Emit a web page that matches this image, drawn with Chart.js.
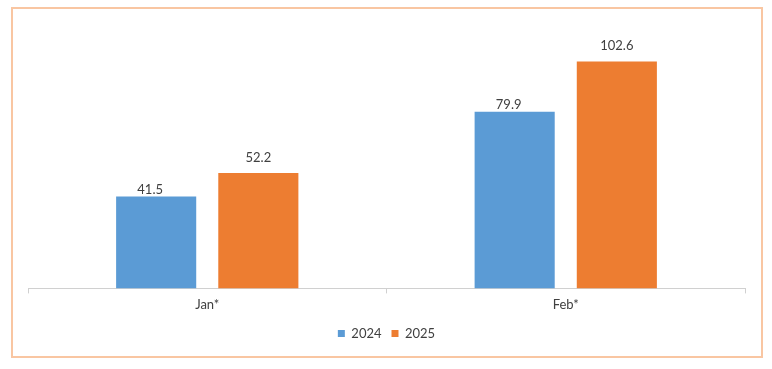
<!DOCTYPE html>
<html>
<head>
<meta charset="utf-8">
<script src="https://cdn.jsdelivr.net/npm/chart.js@4/dist/chart.umd.min.js"></script>
<style>
  html, body { margin: 0; padding: 0; background: #fff; }
  #wrap { position: relative; width: 772px; height: 369px; }
  #frame { position: absolute; left: 11px; top: 7px; width: 748px; height: 347px; border: 2px solid #f9c6a2; }
  canvas { position: absolute; left: 0; top: 0; }
</style>
</head>
<body>
<div id="wrap">
  <div id="frame"></div>
  <canvas id="canvas" width="772" height="369"></canvas>
</div>
<script>
// chart data
var months = ["Jan*", "Feb*"];
var values2024 = [41.5, 79.9];
var values2025 = [52.2, 102.6];
var seriesNames = ["2024", "2025"];

/* draws the value above each bar */
var valueLabels = {
  id: "valueLabels",
  afterDatasetsDraw: function(chart) {
    var ctx = chart.ctx;
    ctx.save();
    ctx.font = "13px Lato";
    ctx.fillStyle = "#404040";
    ctx.textAlign = "center";
    ctx.textBaseline = "bottom";
    chart.data.datasets.forEach(function(ds, i) {
      var meta = chart.getDatasetMeta(i);
      meta.data.forEach(function(bar, j) {
        ctx.fillText(ds.data[j].toFixed(1), bar.x + ds.labelDx, bar.y - ds.labelDy);
      });
    });
    ctx.restore();
  }
};

var ctx2d = document.getElementById("canvas").getContext("2d");

var myBar = new Chart(ctx2d, {
  type: "bar",
  data: {
    labels: months,
    datasets: [
      { label: seriesNames[0], data: values2024, backgroundColor: "#5b9bd5", labelDx: -6, labelDy: 0 },
      { label: seriesNames[1], data: values2025, backgroundColor: "#ed7d31", labelDx: 0, labelDy: 9 }
    ]
  },
  options: {
    responsive: false,
    animation: false,
    categoryPercentage: 0.57,
    barPercentage: 0.784,
    layout: { padding: { left: 28, right: 27, top: 23, bottom: 19 } },
    scales: {
      x: {
        grid: { drawOnChartArea: false, drawTicks: true, tickLength: 5, color: "#d0d0d0" },
        border: { display: true, color: "#d0d0d0" },
        ticks: { color: "#404040", font: { family: "Lato", size: 13 }, padding: 4 }
      },
      y: { display: false, min: 0, max: 120 }
    },
    plugins: {
      legend: {
        position: "bottom",
        labels: { boxWidth: 7, boxHeight: 7, padding: 10, color: "#404040", font: { family: "Lato", size: 13 } }
      },
      tooltip: { enabled: false }
    }
  },
  plugins: [valueLabels]
});
</script>
</body>
</html>
